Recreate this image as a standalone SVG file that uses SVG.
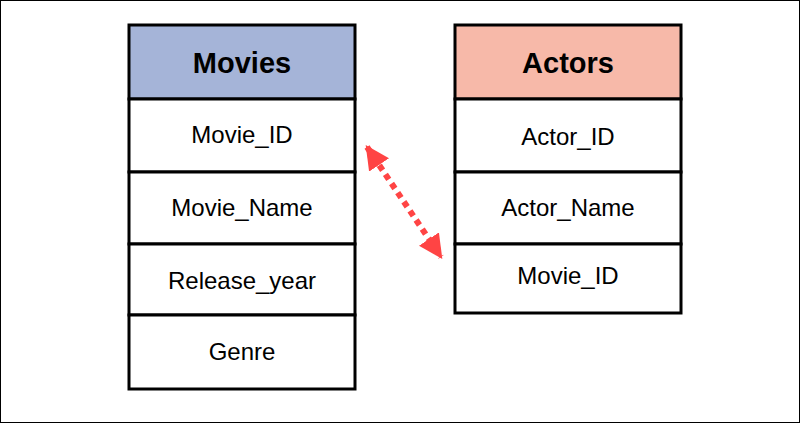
<svg xmlns="http://www.w3.org/2000/svg" width="800" height="423" viewBox="0 0 800 423">
<style>
.b{fill:#fff;stroke:#000;stroke-width:3}
.t{font-family:"Liberation Sans",Arial,sans-serif;font-size:24px;text-anchor:middle;fill:#000}
.h{font-weight:bold;font-size:29px}
</style>
<defs><marker id="a" viewBox="0 0 10 10" refX="9" refY="5" markerWidth="4" markerHeight="4" orient="auto-start-reverse" markerUnits="strokeWidth"><path d="M0,0L10,5L0,10z" fill="#f44"/></marker></defs>
<rect x="0.5" y="0.5" width="799" height="422" fill="#fff" stroke="#000"/>
<g id="movies">
<rect class="b" x="129" y="25" width="226" height="74" style="fill:#a5b4d8"/>
<rect class="b" x="129" y="99" width="226" height="73"/>
<rect class="b" x="129" y="172" width="226" height="72"/>
<rect class="b" x="129" y="244" width="226" height="71"/>
<rect class="b" x="129" y="315" width="226" height="74"/>
<text class="t h" x="242" y="73">Movies</text>
<text class="t" x="242" y="143">Movie_ID</text>
<text class="t" x="242" y="216">Movie_Name</text>
<text class="t" x="242" y="289">Release_year</text>
<text class="t" x="242" y="360">Genre</text>
</g>
<g id="actors">
<rect class="b" x="455" y="25" width="226" height="74" style="fill:#f7b9a9"/>
<rect class="b" x="455" y="99" width="226" height="73"/>
<rect class="b" x="455" y="172" width="226" height="72"/>
<rect class="b" x="455" y="244" width="226" height="69"/>
<text class="t h" x="568" y="73">Actors</text>
<text class="t" x="568" y="145">Actor_ID</text>
<text class="t" x="568" y="216">Actor_Name</text>
<text class="t" x="568" y="284">Movie_ID</text>
</g>
<g id="connectors">
<line x1="367" y1="147" x2="441" y2="257" stroke="#f44" stroke-width="6" stroke-dasharray="6 5" marker-start="url(#a)" marker-end="url(#a)"/>
</g>
</svg>
